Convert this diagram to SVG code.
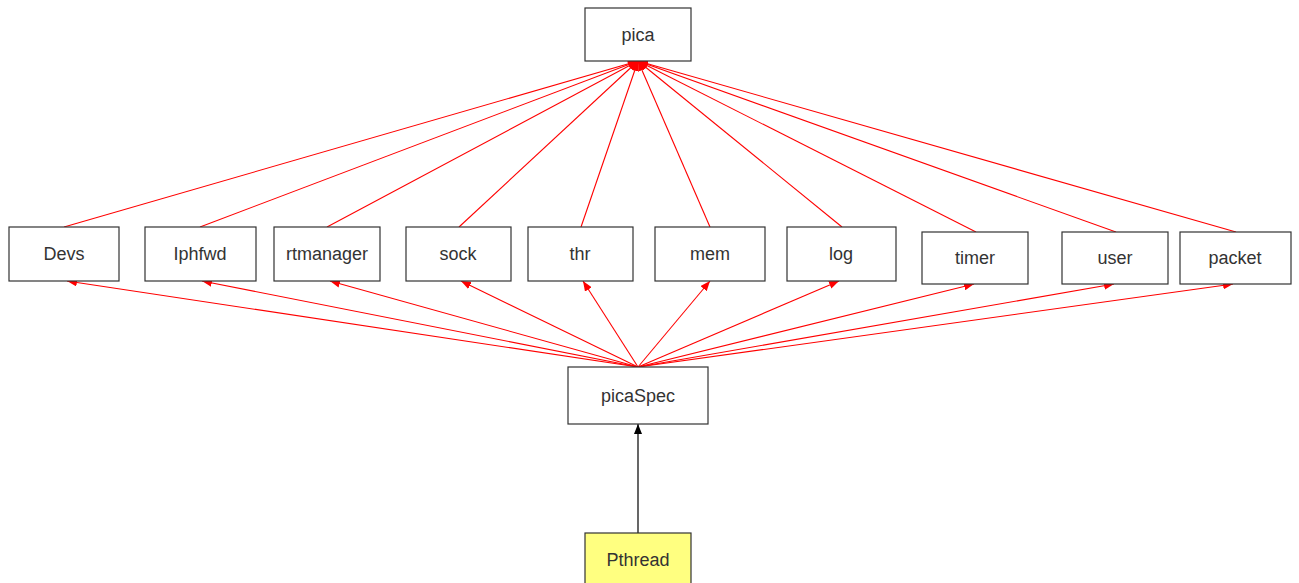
<svg xmlns="http://www.w3.org/2000/svg" width="1299" height="583" viewBox="0 0 1299 583">
<defs>
<marker id="ar" viewBox="0 0 10 8" refX="10" refY="4" markerWidth="10" markerHeight="8" markerUnits="userSpaceOnUse" orient="auto"><path d="M0,0 L10,4 L0,8 Z" fill="#f00"/></marker>
<marker id="ab" viewBox="0 0 10 8" refX="10" refY="4" markerWidth="10" markerHeight="8" markerUnits="userSpaceOnUse" orient="auto"><path d="M0,0 L10,4 L0,8 Z" fill="#000"/></marker>
</defs>
<style>
rect{fill:#fff;stroke:#333;stroke-width:1.2}
text{font-family:"Liberation Sans",Arial,sans-serif;font-size:18px;fill:#333;text-anchor:middle;dominant-baseline:central}
.r{stroke:#f00;stroke-width:1.1;fill:none;marker-end:url(#ar)}
.b{stroke:#000;stroke-width:1.2;fill:none;marker-end:url(#ab)}
</style>
<rect x="0" y="0" width="1299" height="583" style="fill:#fff;stroke:none"/>
<g id="connectors">
<line class="r" x1="64" y1="227" x2="638" y2="61"/>
<line class="r" x1="200" y1="227" x2="638" y2="61"/>
<line class="r" x1="327" y1="227" x2="638" y2="61"/>
<line class="r" x1="459" y1="227" x2="638" y2="61"/>
<line class="r" x1="581" y1="227" x2="638" y2="61"/>
<line class="r" x1="710" y1="227" x2="638" y2="61"/>
<line class="r" x1="842" y1="227" x2="638" y2="61"/>
<line class="r" x1="976" y1="232" x2="638" y2="61"/>
<line class="r" x1="1116" y1="232" x2="638" y2="61"/>
<line class="r" x1="1236" y1="232" x2="638" y2="61"/>
<line class="r" x1="638" y1="367" x2="67" y2="281"/>
<line class="r" x1="638" y1="367" x2="202" y2="281"/>
<line class="r" x1="638" y1="367" x2="330" y2="281"/>
<line class="r" x1="638" y1="367" x2="461" y2="281"/>
<line class="r" x1="638" y1="367" x2="583" y2="281"/>
<line class="r" x1="638" y1="367" x2="710" y2="281"/>
<line class="r" x1="638" y1="367" x2="839" y2="281"/>
<line class="r" x1="638" y1="367" x2="974" y2="284"/>
<line class="r" x1="638" y1="367" x2="1114" y2="284"/>
<line class="r" x1="638" y1="367" x2="1233" y2="284"/>
<line class="b" x1="638" y1="533" x2="638" y2="424"/>
</g>
<g id="pica"><rect x="585" y="8" width="106" height="53"/><text x="638" y="35">pica</text></g>
<g id="Devs"><rect x="9" y="227" width="110" height="54"/><text x="64" y="254">Devs</text></g>
<g id="Iphfwd"><rect x="145" y="227" width="111" height="54"/><text x="200" y="254">Iphfwd</text></g>
<g id="rtmanager"><rect x="274" y="227" width="106" height="54"/><text x="327" y="254">rtmanager</text></g>
<g id="sock"><rect x="406" y="227" width="105" height="54"/><text x="458" y="254">sock</text></g>
<g id="thr"><rect x="528" y="227" width="105" height="54"/><text x="580" y="254">thr</text></g>
<g id="mem"><rect x="655" y="227" width="110" height="54"/><text x="710" y="254">mem</text></g>
<g id="log"><rect x="787" y="227" width="109" height="54"/><text x="841" y="254">log</text></g>
<g id="timer"><rect x="922" y="232" width="106" height="52"/><text x="975" y="258">timer</text></g>
<g id="user"><rect x="1062" y="232" width="106" height="52"/><text x="1115" y="258">user</text></g>
<g id="packet"><rect x="1180" y="232" width="111" height="52"/><text x="1235" y="258">packet</text></g>
<g id="picaSpec"><rect x="568" y="367" width="140" height="57"/><text x="638" y="396">picaSpec</text></g>
<g id="Pthread"><rect x="585" y="533" width="106" height="56" style="fill:#ffff80"/><text x="638" y="560">Pthread</text></g>
</svg>
